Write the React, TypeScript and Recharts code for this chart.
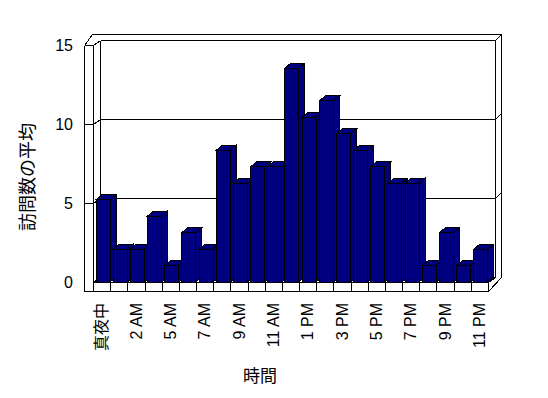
import React from 'react';
import { BarChart, Bar, XAxis, YAxis, Customized } from 'recharts';

const hours = [
    '真夜中', '1 AM', '2 AM', '3 AM', '5 AM', '6 AM', '7 AM', '8 AM', '9 AM', '10 AM', '11 AM', '12 PM',
    '1 PM', '2 PM', '3 PM', '4 PM', '5 PM', '6 PM', '7 PM', '8 PM', '9 PM', '10 PM', '11 PM',
];
const visits = [
    5.21, 2.08, 2.08, 4.17, 1.04, 3.13, 2.08, 8.33, 6.25, 7.29, 7.29, 13.54,
    10.42, 11.46, 9.38, 8.33, 7.29, 6.25, 6.25, 1.04, 3.13, 1.04, 2.08,
];
const yTicks = [0, 5, 10, 15];

const data = hours.map((name, i) => ({ name, visits: visits[i] }));

// layout of the "3d" box around the plot
const W = 548;
const H = 398;
const MARGIN = { top: 45, right: 60, left: 0, bottom: 0 };
const YAXIS_W = 93;
const XAXIS_H = 116;
const L = MARGIN.left + YAXIS_W;
const R = W - MARGIN.right;
const T = MARGIN.top;
const B = H - MARGIN.bottom - XAXIS_H;
const DX = 7; // wall depth
const DY = 5;
const FONT = '"Liberation Sans", Arial, "Noto Sans CJK JP", sans-serif';
const NAVY = '#000080';

const yOf = (v: number) => T + (B - T) * (1 - v / 15);

const Walls = () => {
    const lines: React.ReactNode[] = [];
    const ln = (x1: number, y1: number, x2: number, y2: number) =>
        lines.push(<line key={lines.length} x1={x1} y1={y1} x2={x2} y2={y2} />);

    // left wall, front strip
    ln(L - 9, T, L - 9, B + 9);
    ln(L, T, L, B);
    yTicks.filter(v => v > 0).forEach(v => ln(L - 9, yOf(v), L, yOf(v)));
    // left wall inner face + back wall grid
    ln(L + DX, T - DY, L + DX, B - DY);
    yTicks.forEach(v => {
        ln(L, yOf(v), L + DX, yOf(v) - DY);
        ln(L + DX, yOf(v) - DY, R + DX, yOf(v) - DY);
        if (v > 0) ln(R + DX, yOf(v) - DY, R + 2 * DX - 1, yOf(v) - 2 * DY - 1);
    });
    ln(R + DX, T - DY, R + DX, B - DY);
    // outer top / right edge
    ln(L - 9, T, L - 1, T - 2 * DY - 1);
    ln(L - 1, T - 2 * DY - 1, R + 2 * DX - 1, T - 2 * DY - 1);
    ln(R + 2 * DX - 1, T - 2 * DY - 1, R + 2 * DX - 1, B - DY);
    // floor strip
    ln(L, B, R, B);
    ln(L - 9, B + 9, R, B + 9);
    const step = (R - L) / hours.length;
    for (let i = 0; i <= hours.length; i++) {
        const x = Math.round(L + i * step);
        ln(x, B, x, B + 9);
    }
    ln(R, B, R + DX, B - DY);
    ln(R, B + 9, R + 2 * DX - 1, B - DY);

    return (
        <g stroke="#000" strokeWidth={1} shapeRendering="crispEdges" transform="translate(0.5,0.5)">
            {lines}
        </g>
    );
};

const Bar3D = (props: any) => {
    const { x, y, width, height } = props;
    const x0 = x + 1;
    const x1 = x0 + width;
    const d = 6;
    const e = 5;
    return (
        <g stroke="#000" strokeWidth={1} fill={NAVY} shapeRendering="crispEdges">
            <rect x={x0} y={y} width={width} height={height} />
            <polygon points={`${x0},${y} ${x0 + d},${y - e} ${x1 + d},${y - e} ${x1},${y}`} />
            <polygon points={`${x1},${y} ${x1 + d},${y - e} ${x1 + d},${y + height - e} ${x1},${y + height}`} />
        </g>
    );
};

const HourTick = (props: any) => {
    const { x, payload } = props;
    const ty = B + 21;
    return (
        <text
            x={x}
            y={ty}
            dy="0.35em"
            textAnchor="end"
            transform={`rotate(-90, ${x}, ${ty})`}
            fontSize={16}
            fontFamily={FONT}
            fill="#000"
        >
            {payload.value}
        </text>
    );
};

const ValueTick = (props: any) => {
    const { y, payload } = props;
    return (
        <text x={73} y={y} dy="0.35em" textAnchor="end" fontSize={16} fontFamily={FONT} fill="#000">
            {payload.value}
        </text>
    );
};

const App: React.FC = () => {
    return (
        <div style={{ position: 'absolute', left: 0, top: 0, background: '#fff' }}>
            <BarChart width={W} height={H} data={data} margin={MARGIN} barSize={14}>
                <Customized component={Walls} />
                <XAxis
                    dataKey="name"
                    height={XAXIS_H}
                    interval={1}
                    axisLine={false}
                    tickLine={false}
                    tick={<HourTick />}
                    label={{
                        content: () => (
                            <text x={260} y={382} textAnchor="middle" fontSize={17} fontFamily={FONT} fill="#000">
                                時間
                            </text>
                        ),
                    }}
                />
                <YAxis
                    width={YAXIS_W}
                    domain={[0, 15]}
                    ticks={yTicks}
                    axisLine={false}
                    tickLine={false}
                    tick={<ValueTick />}
                    label={{
                        content: () => (
                            <text
                                x={28}
                                y={177}
                                dy="0.35em"
                                textAnchor="middle"
                                transform="rotate(-90, 28, 177)"
                                fontSize={18}
                                fontFamily={FONT}
                                fill="#000"
                            >
                                訪問数の平均
                            </text>
                        ),
                    }}
                />
                <Bar dataKey="visits" shape={<Bar3D />} isAnimationActive={false} />
            </BarChart>
        </div>
    );
};

export default App;
